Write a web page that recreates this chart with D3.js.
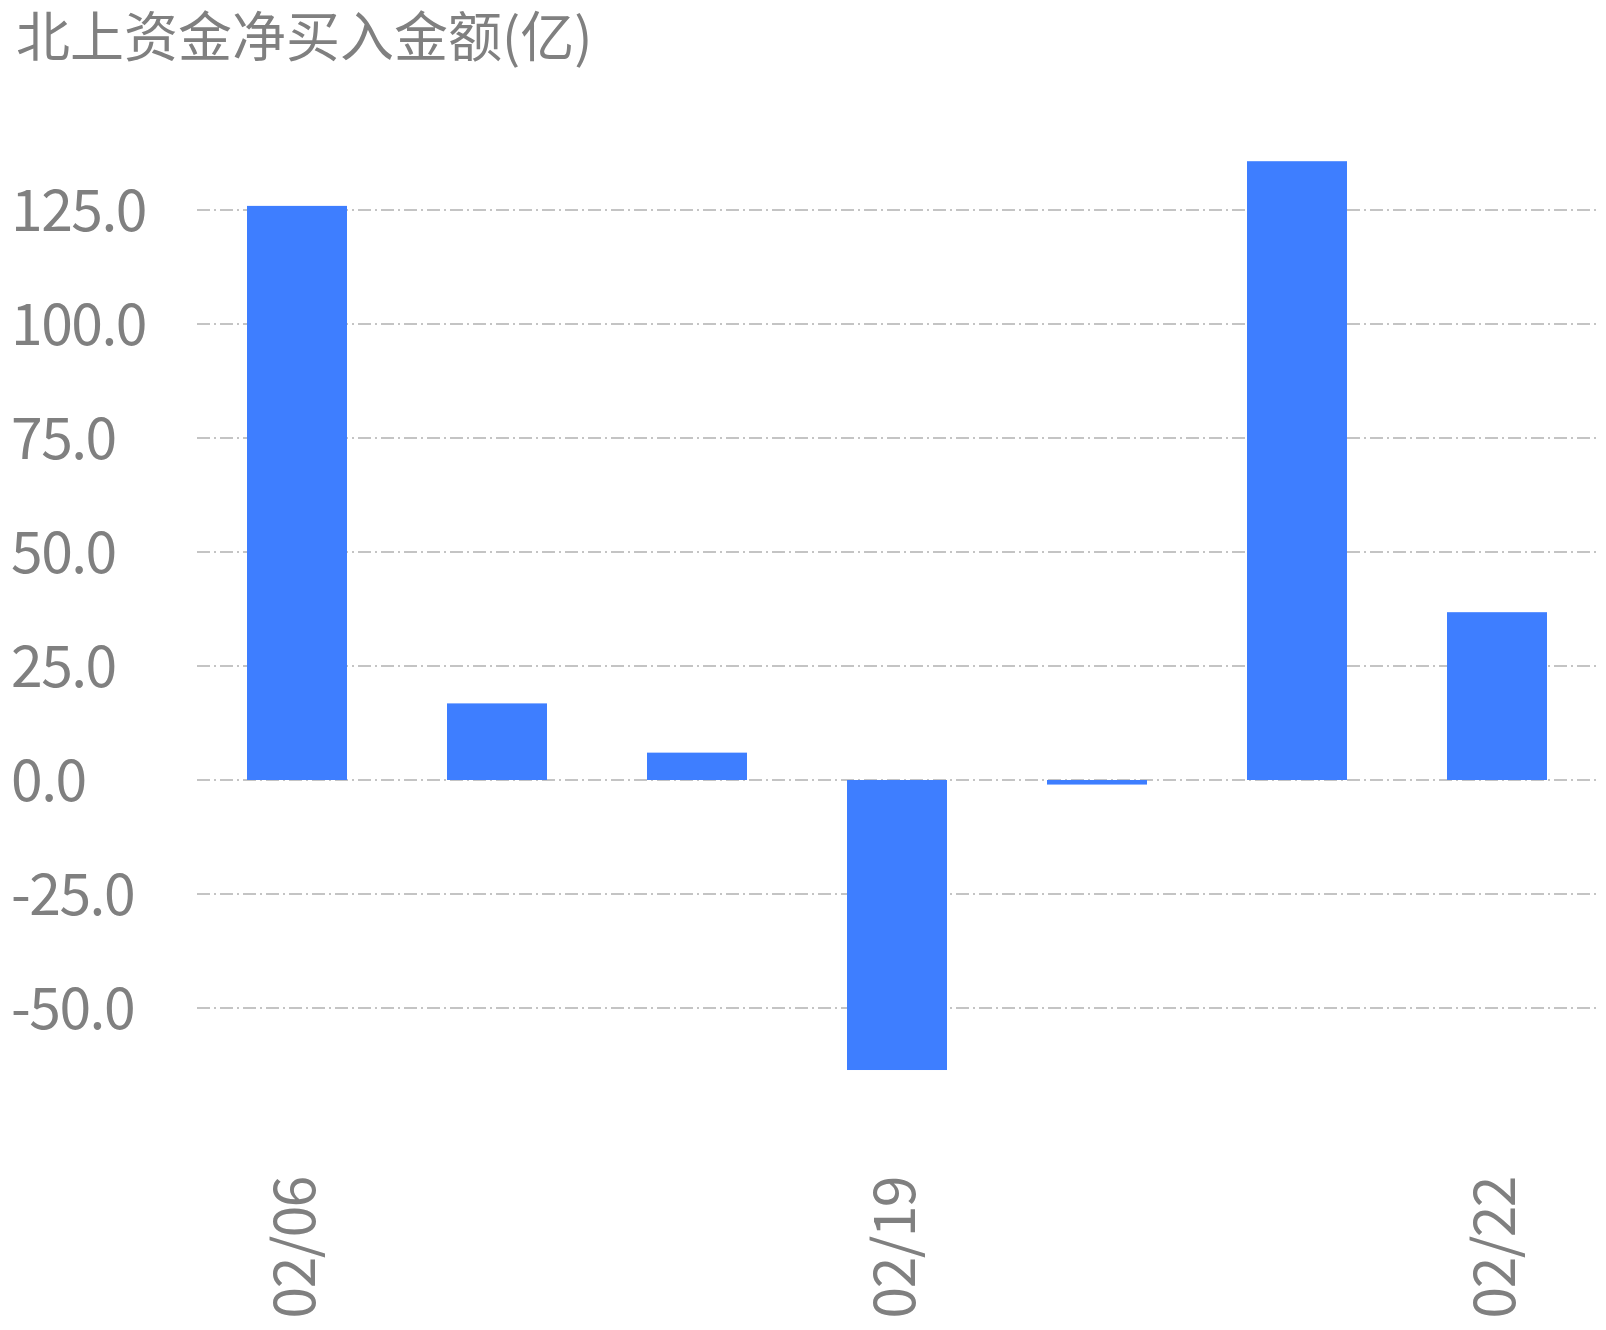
<!DOCTYPE html>
<html>
<head>
<meta charset="utf-8">
<script src="https://cdn.jsdelivr.net/npm/d3@7"></script>
<style>
  html, body { margin: 0; padding: 0; background: #fff; }
  svg { display: block; }
  text { font-family: "Noto Sans CJK SC", "Noto Sans", sans-serif; fill: #808080; }
</style>
</head>
<body>
<script>
const title = "北上资金净买入金额(亿)";
const categories = ["02/06", "02/07", "02/08", "02/19", "02/20", "02/21", "02/22"];
const values = [125.9, 16.8, 6.0, -63.6, -1.0, 135.7, 36.8];
const yTickValues = [-50, -25, 0, 25, 50, 75, 100, 125];
const xLabelIndices = [0, 3, 6];

const W = 1606, H = 1330;
const svg = d3.select("body").append("svg").attr("width", W).attr("height", H);

const x = d3.scaleBand().domain(categories).range([197, 1597]).paddingInner(0.5).paddingOuter(0.25);
const y = d3.scaleLinear().domain([-75, 150]).range([1122, 96]);

// title
svg.append("text").attr("x", 16).attr("y", 57).attr("font-size", 54).text(title);

// grid lines
svg.append("g").selectAll("line").data(yTickValues).join("line")
  .attr("x1", 197).attr("x2", 1597)
  .attr("y1", d => y(d)).attr("y2", d => y(d))
  .attr("stroke", "#c4c4c4").attr("stroke-width", 2)
  .attr("stroke-dasharray", "13,4,2,4");

const fmt = d => d3.format(".1f")(d).replace("\u2212", "-");

// y labels
svg.append("g").selectAll("text").data(yTickValues).join("text")
  .attr("x", 11).attr("y", d => y(d) + 21)
  .attr("font-size", 57)
  .attr("letter-spacing", -1.5)
  .text(fmt);

// bars
svg.append("g").selectAll("rect").data(values).join("rect")
  .attr("x", (d, i) => x(categories[i]))
  .attr("width", x.bandwidth())
  .attr("y", d => y(Math.max(0, d)))
  .attr("height", d => Math.abs(y(d) - y(0)))
  .attr("fill", "#3e7eff");

// x labels
svg.append("g").selectAll("text").data(xLabelIndices).join("text")
  .attr("transform", i => `translate(${x(categories[i]) + x.bandwidth() / 2 + 18},1177) rotate(-90)`)
  .attr("text-anchor", "end")
  .attr("font-size", 57)
  .attr("letter-spacing", -1.5)
  .text(i => categories[i]);
</script>
</body>
</html>
